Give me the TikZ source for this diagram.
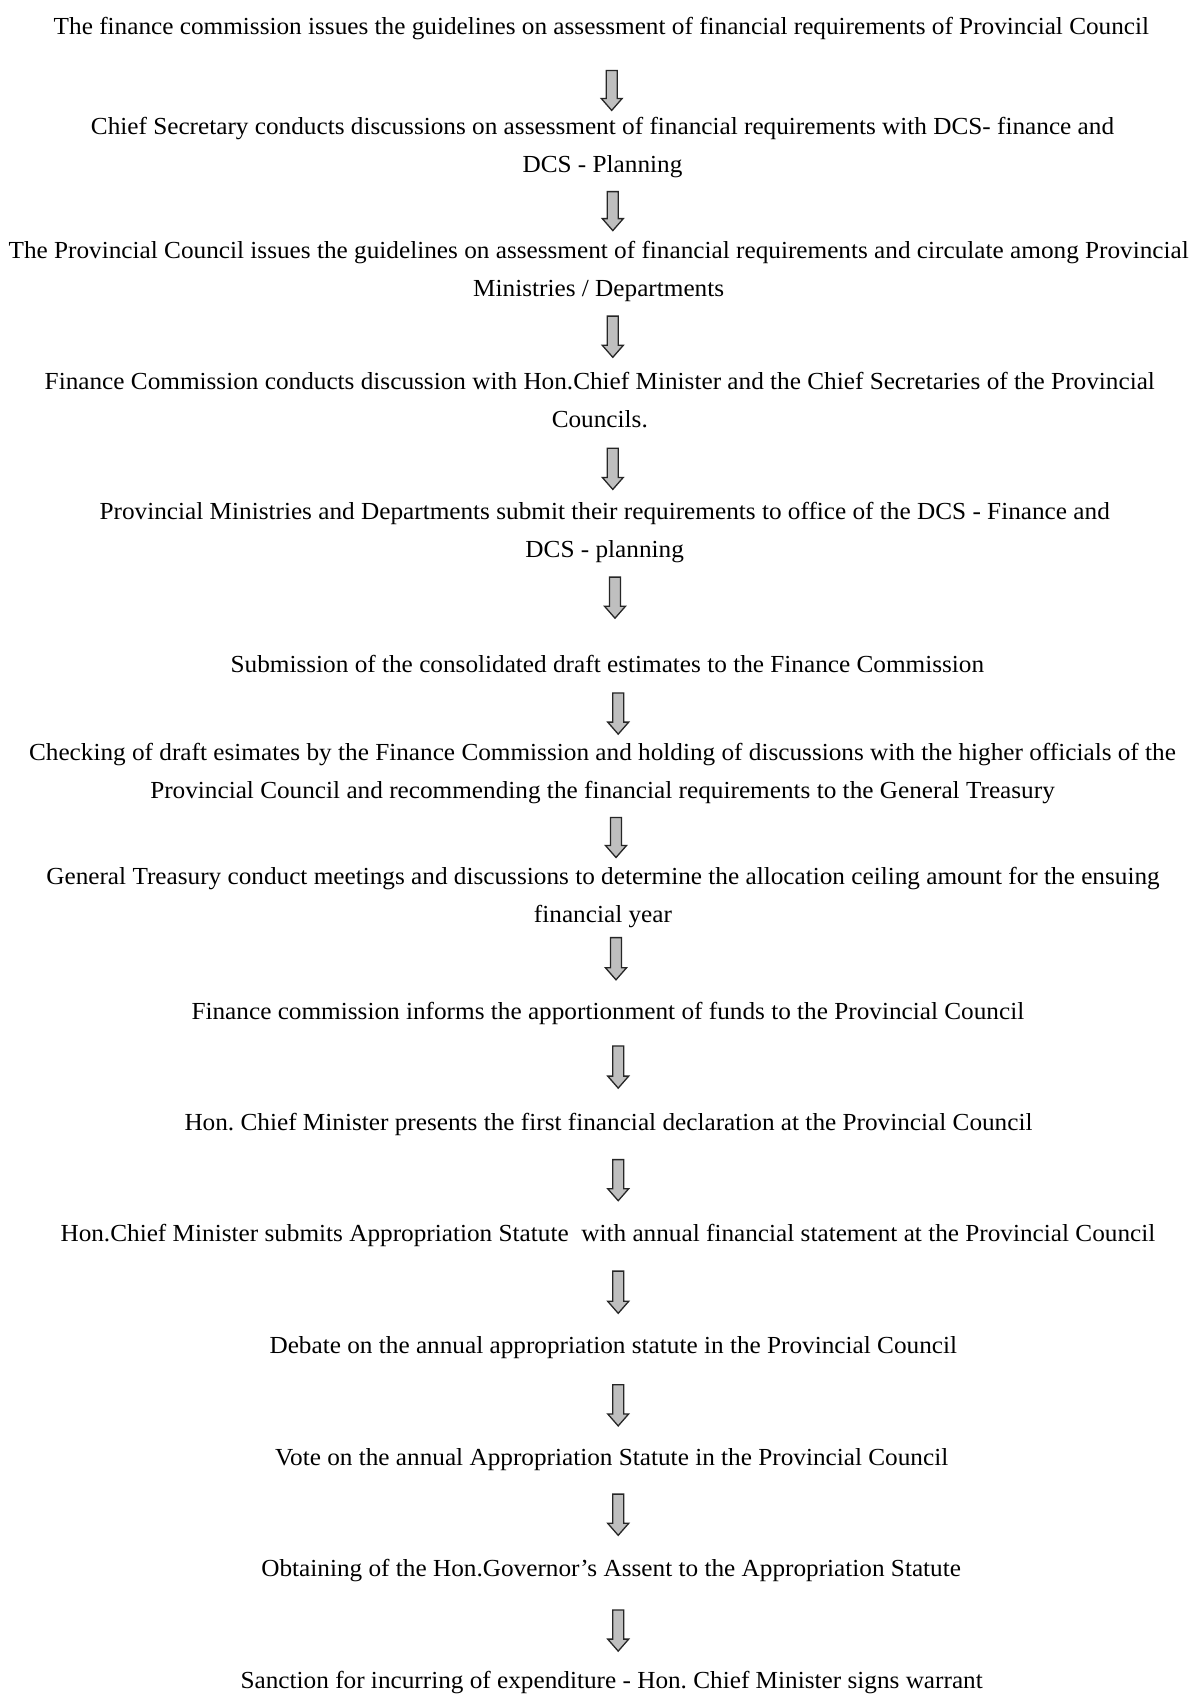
\documentclass[tikz,border=0pt]{standalone}
\usepackage{fontspec}
\setmainfont[FakeStretch=1.03]{Liberation Serif}
\usetikzlibrary{calc}
\frenchspacing
\tikzset{
  steptext/.style={font=\fontsize{24.5}{38}\selectfont, align=center, inner sep=0pt, anchor=center},
  blockarr/.style={draw=black!85, line width=1.3pt, fill=gray!50,
    to path={let \p1=(\tikztostart), \p2=(\tikztotarget) in
      (\x1-5.5pt,\y1) -- (\x1+5.5pt,\y1) -- (\x1+5.5pt,\y2+12pt) -- (\x1+10.5pt,\y2+12pt)
      -- (\x1,\y2) -- (\x1-10.5pt,\y2+12pt) -- (\x1-5.5pt,\y2+12pt) -- cycle}}
}
\begin{document}
\begin{tikzpicture}[x=1pt,y=1pt]
\useasboundingbox[fill=white] (0,0) rectangle (1191,-1698);
\node[steptext] (s1) at (601.4,-28.5) {The finance commission issues the guidelines on assessment of financial requirements of Provincial Council};
\node[steptext] (s2) at (602.5,-147.5) {Chief Secretary conducts discussions on assessment of financial requirements with DCS- finance and\\DCS - Planning};
\node[steptext] (s3) at (598.7,-271) {The Provincial Council issues the guidelines on assessment of financial requirements and circulate among Provincial\\Ministries / Departments};
\node[steptext] (s4) at (599.8,-400.5) {Finance Commission conducts discussion with Hon.Chief Minister and the Chief Secretaries of the Provincial\\Councils.};
\node[steptext] (s5) at (604.7,-532.5) {Provincial Ministries and Departments submit their requirements to office of the DCS - Finance and\\DCS - planning};
\node[steptext] (s6) at (607.4,-663.5) {Submission of the consolidated draft estimates to the Finance Commission};
\node[steptext] (s7) at (602.5,-773.5) {Checking of draft esimates by the Finance Commission and holding of discussions with the higher officials of the\\Provincial Council and recommending the financial requirements to the General Treasury};
\node[steptext] (s8) at (603,-898) {General Treasury conduct meetings and discussions to determine the allocation ceiling amount for the ensuing\\financial year};
\node[steptext] (s9) at (607.9,-1013.3) {Finance commission informs the apportionment of funds to the Provincial Council};
\node[steptext] (s10) at (608.5,-1124.8) {Hon. Chief Minister presents the first financial declaration at the Provincial Council};
\node[steptext] (s11) at (607.9,-1235.3) {Hon.Chief Minister submits Appropriation Statute\ \ with annual financial statement at the Provincial Council};
\node[steptext] (s12) at (613.3,-1347.9) {Debate on the annual appropriation statute in the Provincial Council};
\node[steptext] (s13) at (611.7,-1459.4) {Vote on the annual Appropriation Statute in the Provincial Council};
\node[steptext] (s14) at (611.2,-1570.9) {Obtaining of the Hon.Governor's Assent to the Appropriation Statute};
\node[steptext] (s15) at (611.7,-1682.4) {Sanction for incurring of expenditure - Hon. Chief Minister signs warrant};
% arrow end points
\coordinate (a1t) at (611.7,-70.4);   \coordinate (a1b) at (611.7,-110.4);
\coordinate (a2t) at (612.8,-191.6);  \coordinate (a2b) at (612.8,-230.6);
\coordinate (a3t) at (612.8,-316.1);  \coordinate (a3b) at (612.8,-357.3);
\coordinate (a4t) at (612.8,-448.2);  \coordinate (a4b) at (612.8,-489.4);
\coordinate (a5t) at (615,-577.1);    \coordinate (a5b) at (615,-618.2);
\coordinate (a6t) at (618.2,-692.9);  \coordinate (a6b) at (618.2,-734.1);
\coordinate (a7t) at (616,-817.4);    \coordinate (a7b) at (616,-857.5);
\coordinate (a8t) at (616,-937.6);    \coordinate (a8b) at (616,-979.8);
\coordinate (a9t) at (618.2,-1045.9); \coordinate (a9b) at (618.2,-1088.1);
\coordinate (a10t) at (618.2,-1159.6); \coordinate (a10b) at (618.2,-1200.7);
\coordinate (a11t) at (618.2,-1271.1); \coordinate (a11b) at (618.2,-1313.3);
\coordinate (a12t) at (618.2,-1384.8); \coordinate (a12b) at (618.2,-1425.9);
\coordinate (a13t) at (618.2,-1494.1); \coordinate (a13b) at (618.2,-1535.3);
\coordinate (a14t) at (618.2,-1610);   \coordinate (a14b) at (618.2,-1651.1);
\foreach \i in {1,...,14} { \draw[blockarr] (a\i t) to (a\i b); }
\end{tikzpicture}
\end{document}
